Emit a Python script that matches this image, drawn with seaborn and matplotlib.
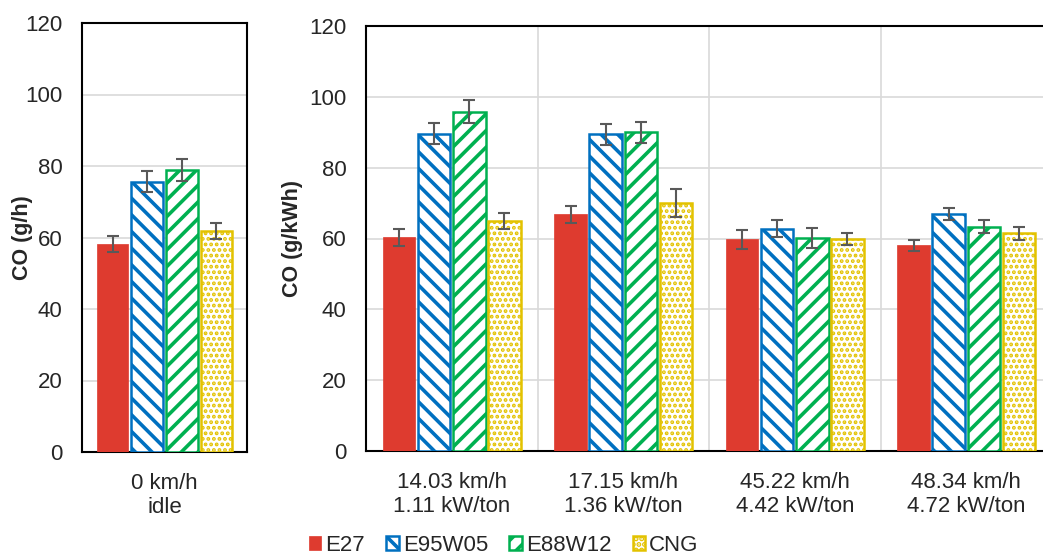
import matplotlib
matplotlib.use("Agg")
import matplotlib.pyplot as plt
import matplotlib.patches as mpatches
import numpy as np
import pandas as pd
import seaborn as sns

fuels = ["E27", "E95W05", "E88W12", "CNG"]
idle_labels = ["0 km/h\nidle"]
drive_labels = [
    "14.03 km/h\n1.11 kW/ton",
    "17.15 km/h\n1.36 kW/ton",
    "45.22 km/h\n4.42 kW/ton",
    "48.34 km/h\n4.72 kW/ton",
]

# CO at idle (g/h), one value per fuel
idle_co = [58.2, 75.6, 78.9, 61.8]
idle_err = [2.3, 2.9, 3.1, 2.3]

# CO while driving (g/kWh), per fuel across the four speeds
e27_co = [60.3, 66.8, 59.8, 58.1]
e95w05_co = [89.6, 89.4, 62.8, 67.0]
e88w12_co = [95.8, 90.0, 60.2, 63.3]
cng_co = [65.0, 70.0, 59.8, 61.5]
e27_err = [2.3, 2.3, 2.7, 1.6]
e95w05_err = [3.0, 3.0, 2.3, 1.7]
e88w12_err = [3.3, 3.0, 2.8, 1.8]
cng_err = [2.3, 4.0, 1.7, 1.8]

colors = ["#DE3B2F", "#0070C0", "#00B050", "#E3C200"]
hatches = ["", "\\\\", "//", "..."]
hatch_lw = [1.0, 2.6, 2.6, 1.9]

sns.set_style("white")
plt.rcParams["font.family"] = ["Liberation Sans", "DejaVu Sans"]
plt.rcParams["hatch.linewidth"] = 2.6

idle_df = pd.DataFrame({
    "speed": idle_labels * len(fuels),
    "fuel": fuels,
    "co": idle_co,
    "err": idle_err,
})
drive_df = pd.DataFrame({
    "speed": drive_labels * len(fuels),
    "fuel": np.repeat(fuels, len(drive_labels)),
    "co": e27_co + e95w05_co + e88w12_co + cng_co,
    "err": e27_err + e95w05_err + e88w12_err + cng_err,
})

fig = plt.figure(figsize=(10.43, 5.58), dpi=100)
W, H = 1043, 558
ax1 = fig.add_axes([82 / W, (H - 452) / H, 165 / W, 429 / H])
ax2 = fig.add_axes([366 / W, (H - 451) / H, 686 / W, 425 / H])


def style_patch(p, col, hat, hlw):
    if hat:
        p.set_facecolor("white")
        p.set_edgecolor(col)
        p.set_hatch(hat)
        p.set_linewidth(1.8)
        if hasattr(p, "set_hatch_linewidth"):
            p.set_hatch_linewidth(hlw)
    else:
        p.set_facecolor(col)
        p.set_edgecolor(col)
        p.set_linewidth(0.5)


def draw_panel(ax, data, order, width):
    sns.barplot(data=data, x="speed", y="co", hue="fuel", order=order,
                hue_order=fuels, palette=colors, width=width, gap=0.08,
                errorbar=None, legend=False, ax=ax, zorder=3)
    for cont, fuel, col, hat, hlw in zip(ax.containers, fuels, colors, hatches, hatch_lw):
        sub = data[data["fuel"] == fuel].set_index("speed").loc[order]
        xs = []
        for bar in cont:
            xs.append(bar.get_x() + bar.get_width() / 2)
            style_patch(bar, col, hat, hlw)
        ax.errorbar(xs, sub["co"], yerr=sub["err"], fmt="none",
                    ecolor="#595959", elinewidth=1.5, capsize=4,
                    capthick=1.5, zorder=4)
    ax.set_xlim(-0.5, len(order) - 0.5)
    ax.set_ylim(0, 120)
    ax.set_yticks(range(0, 121, 20))
    ax.grid(axis="y", color="#d9d9d9", linewidth=1.2, zorder=0)
    ax.set_axisbelow(True)
    ax.set_xlabel("")
    ax.tick_params(axis="both", length=0, labelsize=16)
    ax.tick_params(axis="y", pad=14)
    ax.tick_params(axis="x", pad=15)
    for sp in ax.spines.values():
        sp.set_color("black")
        sp.set_linewidth(1.5)


draw_panel(ax1, idle_df, idle_labels, 0.84)
draw_panel(ax2, drive_df, drive_labels, 0.82)

ax2.set_xticks(np.arange(0.5, len(drive_labels) - 0.5), minor=True)
ax2.tick_params(axis="x", which="minor", length=0)
ax2.grid(axis="x", which="minor", color="#d9d9d9", linewidth=1.2, zorder=0)
ax2.grid(axis="x", which="major", visible=False)

ax1.set_ylabel("CO (g/h)", fontsize=15.5, fontweight="bold")
ax2.set_ylabel("CO (g/kWh)", fontsize=15.5, fontweight="bold")
ax1.yaxis.set_label_coords(-0.297, 0.5)
ax2.yaxis.set_label_coords(-0.0918, 0.5)

handles = []
for col, hat, hlw in zip(colors, hatches, hatch_lw):
    p = mpatches.Patch()
    style_patch(p, col, hat, hlw)
    handles.append(p)
fig.legend(handles, fuels, loc="lower center", bbox_to_anchor=(0.483, -0.032),
           ncol=4, frameon=False, fontsize=16, handlelength=0.55,
           handleheight=0.55, handletextpad=0.2, columnspacing=0.95)

fig.savefig("out.png", dpi=100)
